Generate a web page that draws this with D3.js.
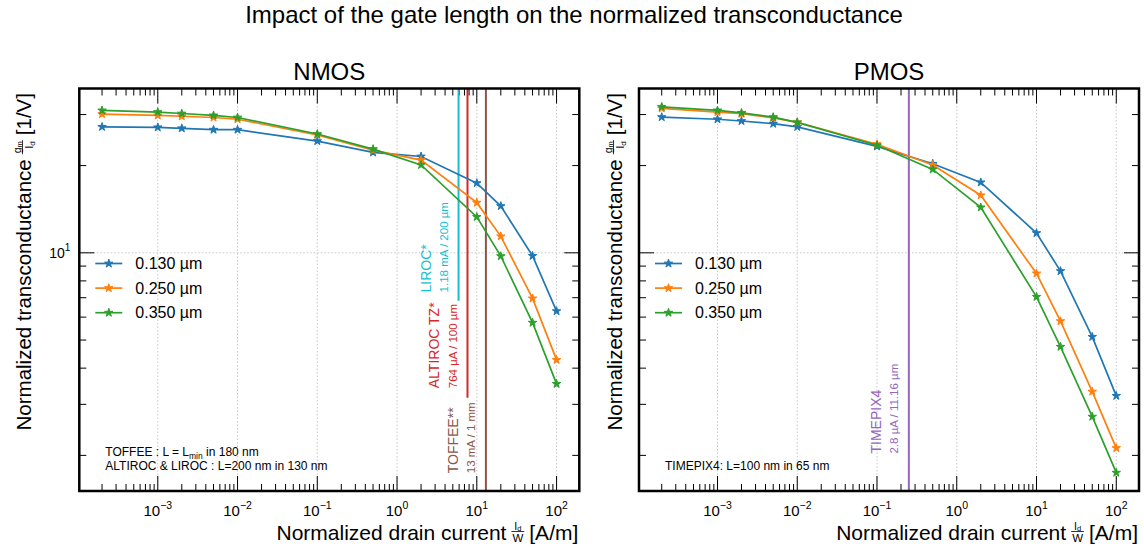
<!DOCTYPE html>
<html>
<head>
<meta charset="utf-8">
<script src="https://cdnjs.cloudflare.com/ajax/libs/d3/7.8.5/d3.min.js"></script>
<style>
  body { margin: 0; background: #fff; }
  svg { font-family: "Liberation Sans", Arial, sans-serif; display: block; }
</style>
</head>
<body>
<svg id="chart" width="1144" height="557"></svg>
<script>
// normalized drain current Id/W [A/m]
const current = [2e-4, 1e-3, 2e-3, 5e-3, 1e-2, 1e-1, 0.5, 2, 10, 20, 50, 100];
const lengths = ["0.130 µm", "0.250 µm", "0.350 µm"];
const colors = ["#1f77b4", "#ff7f0e", "#2ca02c"];

// gm/Id [1/V]
const nmos130 = [27.2, 27.1, 26.9, 26.6, 26.6, 24.3, 22.2, 21.5, 17.4, 14.5, 9.76, 6.29];
const nmos250 = [30.1, 29.8, 29.6, 29.3, 28.9, 25.5, 22.6, 20.9, 14.9, 11.4, 6.96, 4.27];
const nmos350 = [31.0, 30.6, 30.25, 29.8, 29.3, 25.7, 22.8, 20.1, 13.3, 9.74, 5.74, 3.53];
const pmos130 = [29.4, 28.9, 28.5, 27.9, 27.2, 23.3, 20.3, 17.5, 11.7, 8.65, 5.13, 3.21];
const pmos250 = [31.5, 30.6, 30.2, 29.2, 28.2, 23.7, 20.1, 15.8, 8.49, 5.81, 3.32, 2.12];
const pmos350 = [31.9, 31.0, 30.4, 29.4, 28.2, 23.5, 19.4, 14.35, 7.05, 4.74, 2.72, 1.743];

// chip operating points (current density, end of the line, label start, in data units)
const nmosMarks = [
  { name: "LIROC*", info: "1.18 mA / 200 µm", at: 5.9, end: 6.83, textAt: 7.3, color: "#17becf" },
  { name: "ALTIROC TZ*", info: "764 µA / 100 µm", at: 7.64, end: 3.16, textAt: 3.41, color: "#d62728" },
  { name: "TOFFEE**", info: "13 mA / 1 mm", at: 13, end: null, textAt: 1.735, color: "#8c564b" }
];
const pmosMarks = [
  { name: "TIMEPIX4", info: "2.8 µA / 11.16 µm", at: 0.2509, end: null, textAt: 2.03, color: "#9467bd" }
];
const nmosNotes = [["TOFFEE : L = L", "min", " in 180 nm"], ["ALTIROC & LIROC : L=200 nm in 130 nm"]];
const pmosNotes = [["TIMEPIX4: L=100 nm in 65 nm"]];

const svg = d3.select("#chart");
svg.append("rect").attr("width", 1144).attr("height", 557).attr("fill", "#fff");

const plotTop = 88.5, plotBottom = 491, plotWidth = 500;
const xDomain = [Math.pow(10, -3.984), Math.pow(10, 2.285)];
const yDomain = [1.507, 36.9];
const y = d3.scaleLog().domain(yDomain).range([plotBottom, plotTop]);

const isMajor = (v) => Math.abs(Math.log10(v) - Math.round(Math.log10(v))) < 1e-9;
const sup = (v) => {
  const e = Math.round(Math.log10(v));
  return e < 0 ? "\u2212" + (-e) : String(e);
};

svg.append("text")
  .attr("x", 574).attr("y", 23)
  .attr("text-anchor", "middle")
  .style("font-size", "24px")
  .text("Impact of the gate length on the normalized transconductance");

function fracLabel(g, size, before, num, numSub, den, after) {
  const t1 = g.append("text").style("font-size", size + "px").text(before);
  let pos = t1.node().getComputedTextLength() + 5;
  const fg = g.append("g");
  const n = fg.append("text").attr("y", -10.5).style("font-size", "10.5px");
  n.append("tspan").text(num);
  n.append("tspan").attr("dy", 1.5).style("font-size", "7.5px").text(numSub);
  const d = fg.append("text").attr("y", 2).style("font-size", "11.5px").text(den);
  const nw = n.node().getComputedTextLength();
  const dw = d.node().getComputedTextLength();
  const fw = Math.max(nw, dw) + 2;
  n.attr("x", pos + (fw - nw) / 2);
  d.attr("x", pos + (fw - dw) / 2);
  fg.append("line")
    .attr("x1", pos).attr("x2", pos + fw)
    .attr("y1", -8.5).attr("y2", -8.5)
    .attr("stroke", "#000").attr("stroke-width", 0.8);
  pos += fw + 5;
  const t2 = g.append("text").attr("x", pos).style("font-size", size + "px").text(after);
  return { text: d, width: pos + t2.node().getComputedTextLength() };
}

function drawPanel(left, title, series, marks, notes, showYLabels, yLabelX) {
  const x = d3.scaleLog().domain(xDomain).range([left, left + plotWidth]);
  const g = svg.append("g");
  const xt = x.ticks(), yt = y.ticks();

  // grid
  g.append("g").selectAll("line").data(xt.filter(isMajor)).join("line")
    .attr("x1", (d) => x(d)).attr("x2", (d) => x(d))
    .attr("y1", plotTop).attr("y2", plotBottom)
    .attr("stroke", "#c8c8c8").attr("stroke-width", 1).attr("stroke-dasharray", "1.5,2");
  g.append("g").selectAll("line").data(yt.filter(isMajor)).join("line")
    .attr("x1", left).attr("x2", left + plotWidth)
    .attr("y1", (d) => y(d)).attr("y2", (d) => y(d))
    .attr("stroke", "#c8c8c8").attr("stroke-width", 1).attr("stroke-dasharray", "1.5,2");

  // inward ticks on all four sides
  const tl = (d) => (isMajor(d) ? 15 : 7);
  const ticks = g.append("g").attr("stroke", "#000").attr("stroke-width", 1);
  ticks.selectAll("line.b").data(xt).join("line").attr("class", "b")
    .attr("x1", (d) => x(d)).attr("x2", (d) => x(d))
    .attr("y1", plotBottom).attr("y2", (d) => plotBottom - tl(d));
  ticks.selectAll("line.t").data(xt).join("line").attr("class", "t")
    .attr("x1", (d) => x(d)).attr("x2", (d) => x(d))
    .attr("y1", plotTop).attr("y2", (d) => plotTop + tl(d));
  ticks.selectAll("line.l").data(yt).join("line").attr("class", "l")
    .attr("y1", (d) => y(d)).attr("y2", (d) => y(d))
    .attr("x1", left).attr("x2", (d) => left + tl(d));
  ticks.selectAll("line.r").data(yt).join("line").attr("class", "r")
    .attr("y1", (d) => y(d)).attr("y2", (d) => y(d))
    .attr("x1", left + plotWidth).attr("x2", (d) => left + plotWidth - tl(d));

  // tick labels
  const xl = g.append("g").selectAll("text").data(xt.filter(isMajor)).join("text")
    .attr("x", (d) => x(d)).attr("y", 516)
    .attr("text-anchor", "middle").style("font-size", "15px");
  xl.append("tspan").text("10");
  xl.append("tspan").attr("dy", -7).style("font-size", "10.5px").text(sup);
  if (showYLabels) {
    const yl = g.append("g").selectAll("text").data(yt.filter(isMajor)).join("text")
      .attr("x", left - 9).attr("y", (d) => y(d) + 5)
      .attr("text-anchor", "end").style("font-size", "14px");
    yl.append("tspan").text("10");
    yl.append("tspan").attr("dy", -6.5).style("font-size", "10px").text(sup);
  }

  // chip markers
  marks.forEach((m) => {
    const mx = x(m.at);
    g.append("line")
      .attr("x1", mx).attr("x2", mx)
      .attr("y1", plotTop).attr("y2", m.end ? y(m.end) : plotBottom)
      .attr("stroke", m.color).attr("stroke-width", 2);
    const ty = y(m.textAt);
    g.append("text")
      .attr("transform", `translate(${mx - 28},${ty}) rotate(-90)`)
      .attr("fill", m.color).style("font-size", "14px").text(m.name);
    g.append("text")
      .attr("transform", `translate(${mx - 10.5},${ty}) rotate(-90)`)
      .attr("fill", m.color).style("font-size", "11.5px").text(m.info);
  });

  // curves
  series.forEach((s, i) => {
    const pts = current.map((c, k) => [c, s[k]]);
    g.append("path")
      .attr("d", d3.line().x((d) => x(d[0])).y((d) => y(d[1]))(pts))
      .attr("fill", "none").attr("stroke", colors[i]).attr("stroke-width", 1.7);
    g.append("g").selectAll("path").data(pts).join("path")
      .attr("transform", (d) => `translate(${x(d[0])},${y(d[1])})`)
      .attr("d", d3.symbol(d3.symbolStar, 22)())
      .attr("fill", colors[i]).attr("stroke", colors[i]).attr("stroke-width", 1);
  });

  // legend
  lengths.forEach((name, i) => {
    const ly = 263.5 + i * 24.6;
    g.append("line")
      .attr("x1", left + 16).attr("x2", left + 43).attr("y1", ly).attr("y2", ly)
      .attr("stroke", colors[i]).attr("stroke-width", 1.7);
    g.append("path")
      .attr("transform", `translate(${left + 29.5},${ly})`)
      .attr("d", d3.symbol(d3.symbolStar, 22)())
      .attr("fill", colors[i]).attr("stroke", colors[i]).attr("stroke-width", 1);
    g.append("text").attr("x", left + 56).attr("y", ly + 5.5)
      .style("font-size", "16px").text(name);
  });

  // notes
  notes.forEach((line, i) => {
    const t = g.append("text")
      .attr("x", left + 26).attr("y", 470 - (notes.length - 1 - i) * 14)
      .style("font-size", "12px");
    t.append("tspan").text(line[0]);
    if (line[1]) {
      t.append("tspan").attr("dy", 3).style("font-size", "8.5px").text(line[1]);
      t.append("tspan").attr("dy", -3).text(line[2]);
    }
  });

  // frame
  g.append("rect")
    .attr("x", left).attr("y", plotTop).attr("width", plotWidth).attr("height", plotBottom - plotTop)
    .attr("fill", "none").attr("stroke", "#000").attr("stroke-width", 2.5);

  // titles
  g.append("text")
    .attr("x", left + plotWidth / 2).attr("y", 80)
    .attr("text-anchor", "middle").style("font-size", "24px").text(title);

  const xg = g.append("g");
  const xw = fracLabel(xg, 21, "Normalized drain current", "I", "d", "W", "[A/m]").width;
  xg.attr("transform", `translate(${left + plotWidth - 1 - xw},540)`);

  const yg = g.append("g");
  const yf = fracLabel(yg, 20.5, "Normalized transconductance", "g", "m", "I", "[1/V]");
  yf.text.append("tspan").attr("dy", 1.5).style("font-size", "8px").text("d");
  yg.attr("transform", `translate(${yLabelX},${plotTop + 4.5 + yf.width}) rotate(-90)`);
}

drawPanel(79.3, "NMOS", [nmos130, nmos250, nmos350], nmosMarks, nmosNotes, true, 31);
drawPanel(639, "PMOS", [pmos130, pmos250, pmos350], pmosMarks, pmosNotes, false, 622);
</script>
</body>
</html>
